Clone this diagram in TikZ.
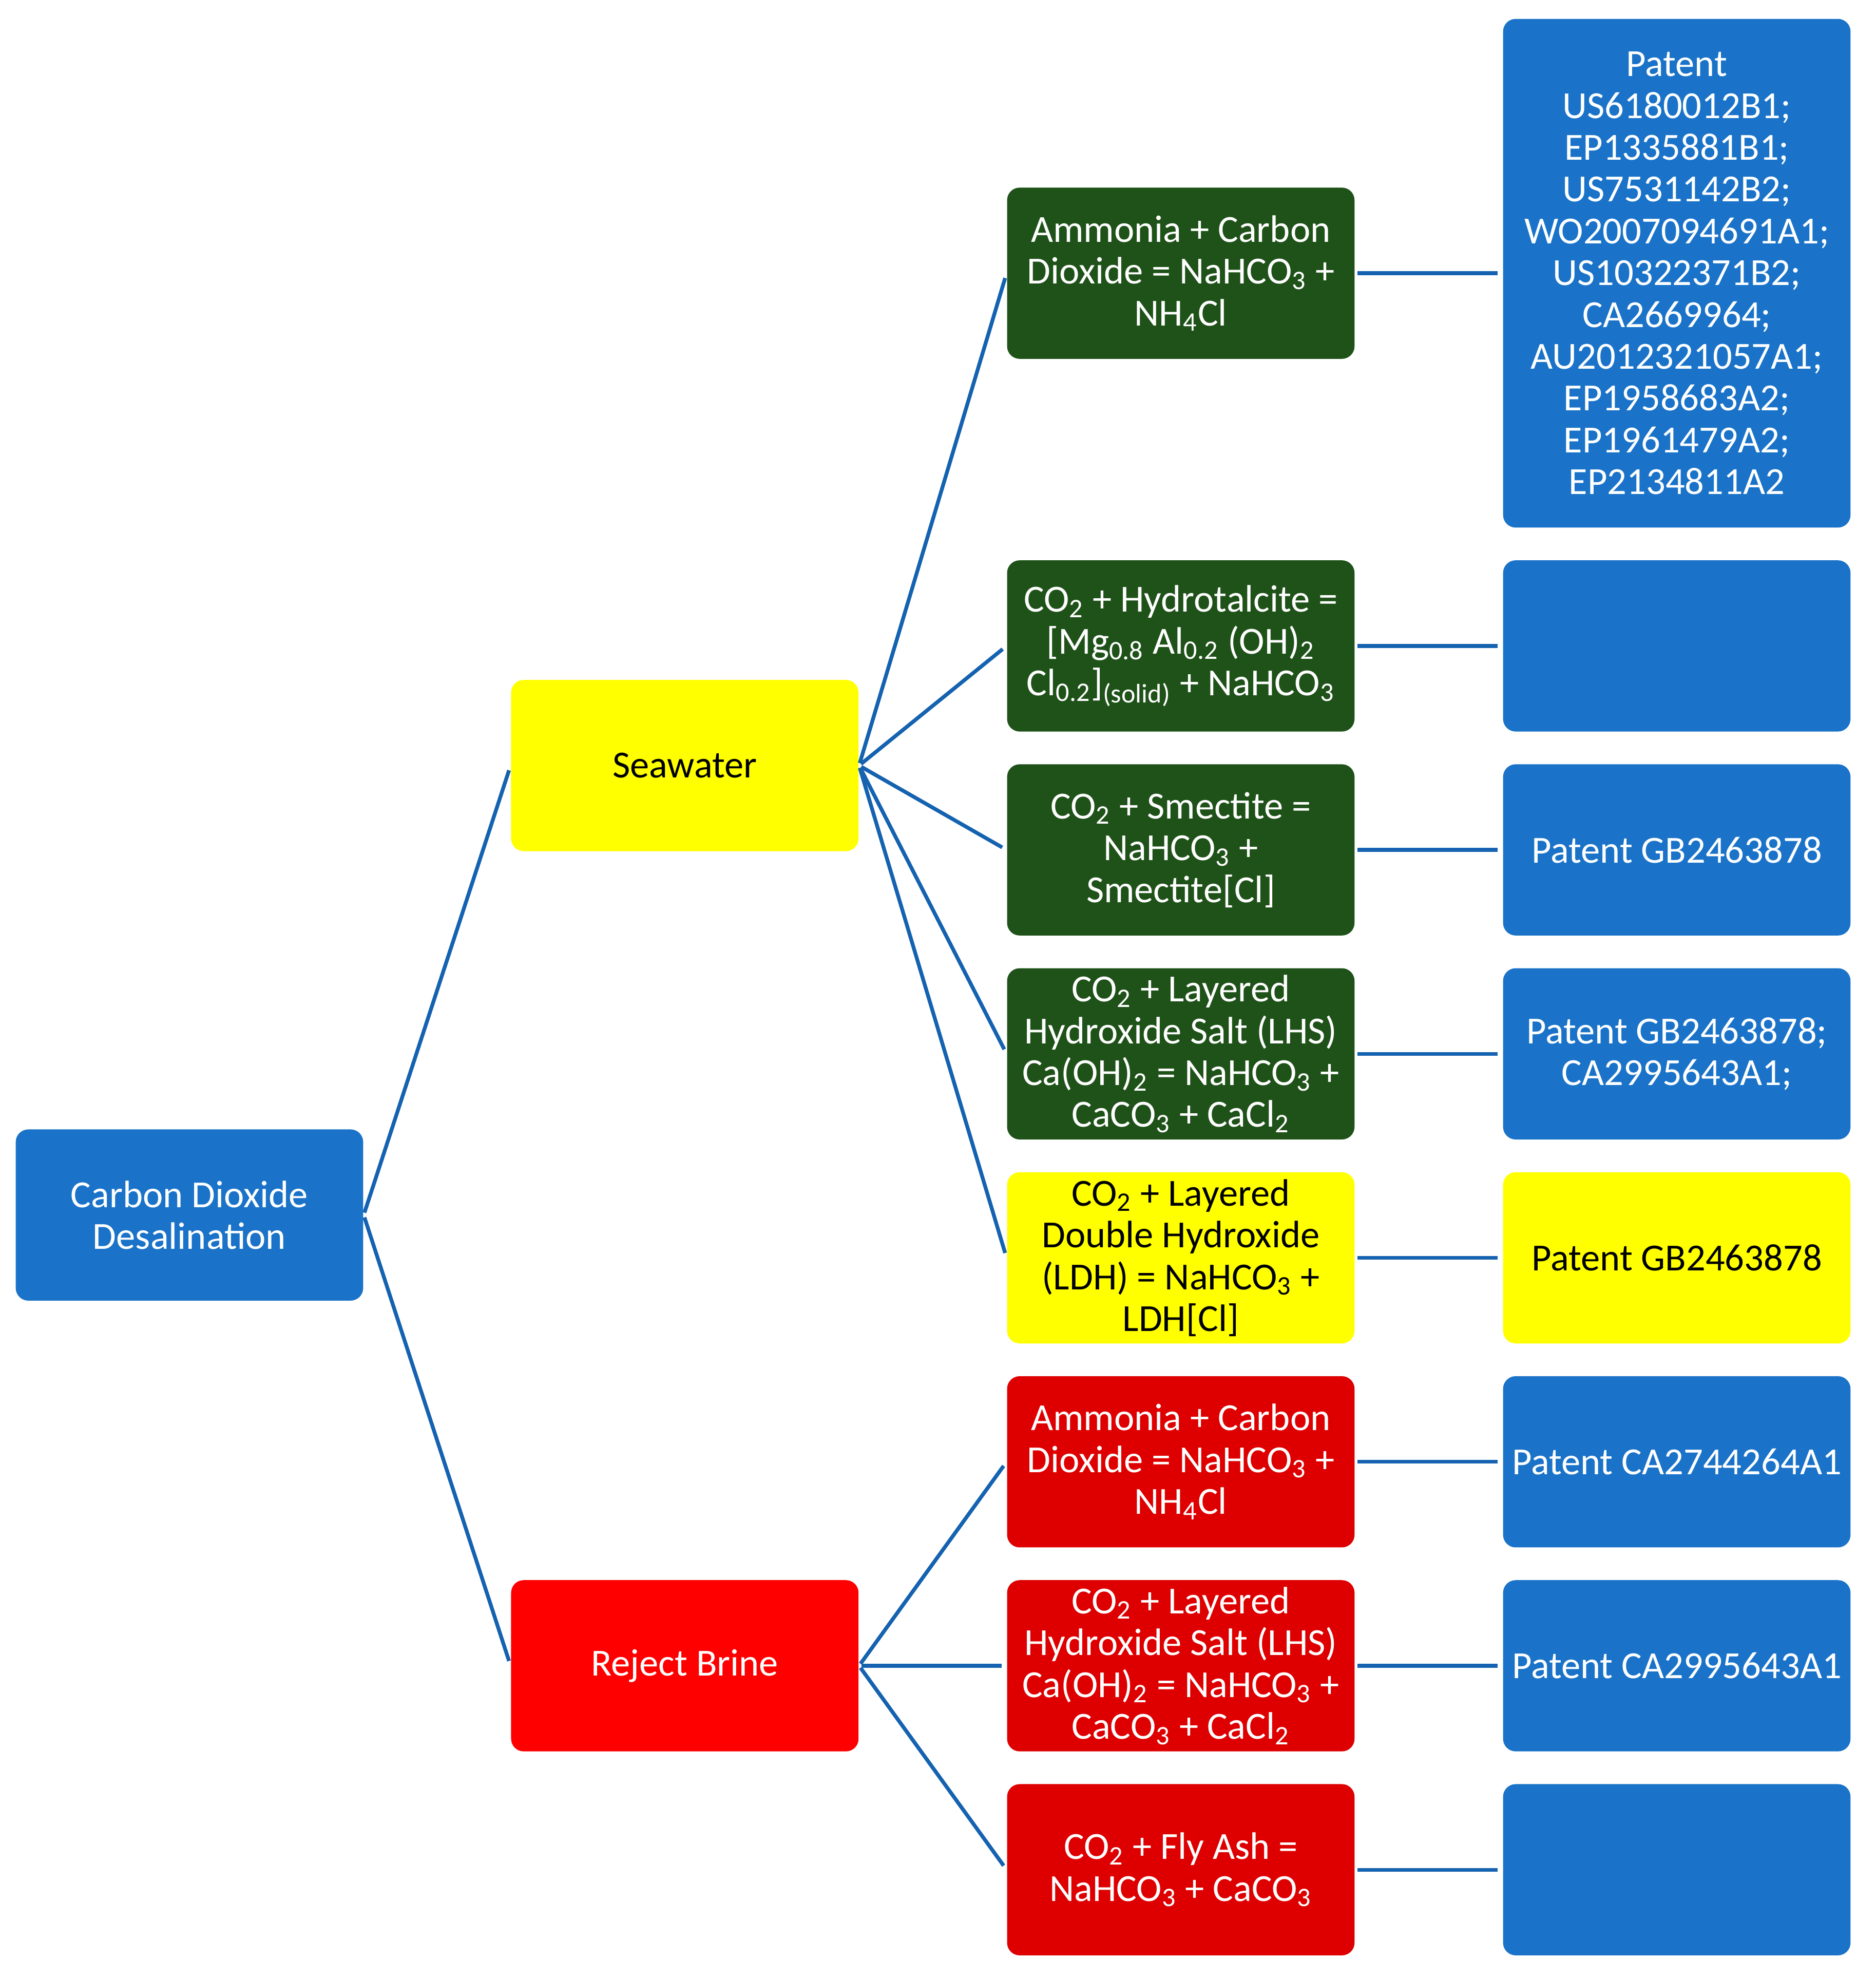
\documentclass[tikz,border=0pt]{standalone}
\usepackage{fontspec}
\setmainfont{Carlito}
\definecolor{boxblue}{HTML}{1A73C8}
\definecolor{lineblue}{HTML}{1462B0}
\definecolor{boxgreen}{HTML}{1F5219}
\definecolor{boxyellow}{HTML}{FFFF00}
\definecolor{boxred}{HTML}{FF0000}
\definecolor{boxdarkred}{HTML}{DE0000}
\newcommand{\sub}[1]{\textsubscript{#1}}
\tikzset{
    box/.style={rectangle, rounded corners=5pt, minimum width=138pt, minimum height=68pt,
        align=center, inner sep=0pt, text=white, font=\fontsize{15.2}{16.6}\selectfont},
    link/.style={draw=lineblue, line width=1.5pt, shorten <=1pt, shorten >=2pt}
}
\begin{document}
\begin{tikzpicture}[x=0.5pt, y=-0.5pt]
        \useasboundingbox (0,0) rectangle (1490,1571);
        % first two levels
        \node[box, fill=boxblue] (root) at (150.5,965) {Carbon Dioxide\\Desalination};
        \node[box, fill=boxyellow, text=black] (sea) at (544,608) {Seawater};
        \node[box, fill=boxred] (brine) at (544,1323) {Reject Brine};
        % reactions
        \node[box, fill=boxgreen] (r1) at (938,217) {Ammonia + Carbon\\Dioxide = NaHCO\sub{3} +\\NH\sub{4}Cl};
        \node[box, fill=boxgreen] (r2) at (938,513) {CO\sub{2} + Hydrotalcite =\\{}[Mg\sub{0.8} Al\sub{0.2} (OH)\sub{2}\\Cl\sub{0.2}]\sub{(solid)} + NaHCO\sub{3}};
        \node[box, fill=boxgreen] (r3) at (938,675) {CO\sub{2} + Smectite =\\NaHCO\sub{3} +\\Smectite[Cl]};
        \node[box, fill=boxgreen] (r4) at (938,837) {CO\sub{2} + Layered\\Hydroxide Salt (LHS)\\Ca(OH)\sub{2} = NaHCO\sub{3} +\\CaCO\sub{3} + CaCl\sub{2}};
        \node[box, fill=boxyellow, text=black] (r5) at (938,999) {CO\sub{2} + Layered\\Double Hydroxide\\(LDH) = NaHCO\sub{3} +\\LDH[Cl]};
        \node[box, fill=boxdarkred] (r6) at (938,1161) {Ammonia + Carbon\\Dioxide = NaHCO\sub{3} +\\NH\sub{4}Cl};
        \node[box, fill=boxdarkred] (r7) at (938,1323) {CO\sub{2} + Layered\\Hydroxide Salt (LHS)\\Ca(OH)\sub{2} = NaHCO\sub{3} +\\CaCO\sub{3} + CaCl\sub{2}};
        \node[box, fill=boxdarkred] (r8) at (938,1485) {CO\sub{2} + Fly Ash =\\NaHCO\sub{3} + CaCO\sub{3}};
        % patents
        \node[box, fill=boxblue, minimum height=202pt] (p1) at (1332,217) {Patent\\US6180012B1;\\EP1335881B1;\\US7531142B2;\\WO2007094691A1;\\US10322371B2;\\CA2669964;\\AU2012321057A1;\\EP1958683A2;\\EP1961479A2;\\EP2134811A2};
        \node[box, fill=boxblue] (p2) at (1332,513) {};
        \node[box, fill=boxblue] (p3) at (1332,675) {Patent GB2463878};
        \node[box, fill=boxblue] (p4) at (1332,837) {Patent GB2463878;\\CA2995643A1;};
        \node[box, fill=boxyellow, text=black] (p5) at (1332,999) {Patent GB2463878};
        \node[box, fill=boxblue] (p6) at (1332,1161) {Patent CA2744264A1};
        \node[box, fill=boxblue] (p7) at (1332,1323) {Patent CA2995643A1};
        \node[box, fill=boxblue] (p8) at (1332,1485) {};
        % connectors
        \path[link] (root.east) -- (sea.west);
        \path[link] (root.east) -- (brine.west);
        \foreach \i in {1,...,5} {
            \path[link] (sea.east) -- (r\i.west);
        }
        \foreach \i in {6,7,8} {
            \path[link] (brine.east) -- (r\i.west);
        }
        \foreach \i in {1,...,8} {
            \path[link] (r\i.east) -- (p\i.west);
        }
        \end{tikzpicture}
\end{document}
